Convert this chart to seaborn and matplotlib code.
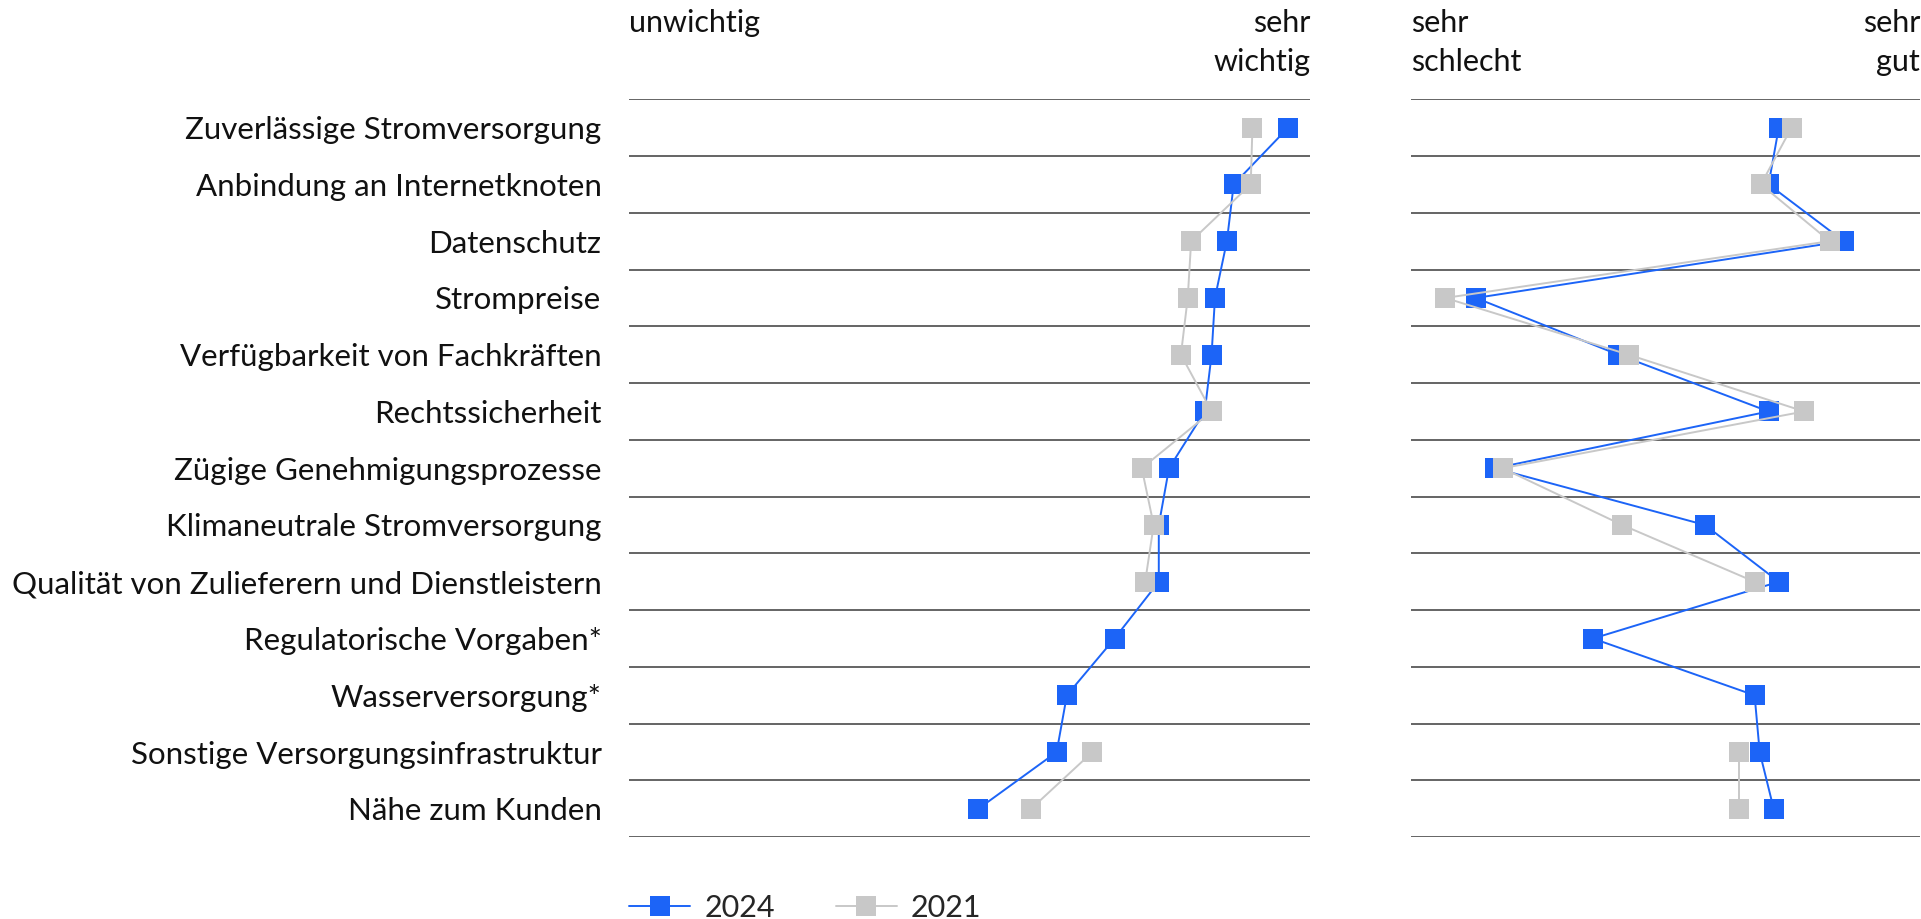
import numpy as np
import pandas as pd
import matplotlib
matplotlib.use("Agg")
import matplotlib.pyplot as plt
import matplotlib.transforms as mtransforms
from matplotlib.lines import Line2D
import seaborn as sns

# Daten
categories = [
    "Zuverlässige Stromversorgung",
    "Anbindung an Internetknoten",
    "Datenschutz",
    "Strompreise",
    "Verfügbarkeit von Fachkräften",
    "Rechtssicherheit",
    "Zügige Genehmigungsprozesse",
    "Klimaneutrale Stromversorgung",
    "Qualität von Zulieferern und Dienstleistern",
    "Regulatorische Vorgaben*",
    "Wasserversorgung*",
    "Sonstige Versorgungsinfrastruktur",
    "Nähe zum Kunden",
]
years = ["2024", "2021"]

# Wichtigkeit (1 = unwichtig, 5 = sehr wichtig)
importance_2024 = [4.87, 4.55, 4.51, 4.44, 4.42, 4.38, 4.17, 4.11, 4.11, 3.85, 3.57, 3.51, 3.05]
importance_2021 = [4.66, 4.65, 4.30, 4.28, 4.24, 4.42, 4.01, 4.08, 4.03, None, None, 3.72, 3.36]

# Bewertung (1 = sehr schlecht, 5 = sehr gut)
rating_2024 = [3.89, 3.81, 4.40, 1.51, 2.63, 3.81, 1.66, 3.31, 3.89, 2.43, 3.70, 3.74, 3.85]
rating_2021 = [3.99, 3.75, 4.29, 1.27, 2.71, 4.09, 1.72, 2.66, 3.70, None, None, 3.58, 3.58]

COLORS = {"2024": "#1c64f7", "2021": "#c8c8c8"}
FONT = "Lato"
FS = 22


def build_frame(v2024, v2021):
    """Baut ein langes DataFrame; Lücken trennen die Linie in Segmente."""
    parts = []
    for year, vals in zip(years, [v2024, v2021]):
        s = pd.Series(vals, dtype="float")
        part = pd.DataFrame({
            "pos": np.arange(len(categories)),
            "value": s,
            "year": year,
            "seg": s.isna().cumsum(),
        })
        parts.append(part.dropna())
    return pd.concat(parts, ignore_index=True)


def draw_panel(ax, df):
    for b in np.arange(len(categories) + 1) - 0.5:
        ax.axhline(b, color="#4a4a4a", lw=1.2, zorder=0)
    sns.lineplot(data=df, x="value", y="pos", hue="year", hue_order=years,
                 units="seg", estimator=None, sort=False, orient="y",
                 palette=COLORS, marker="s", markersize=15, markeredgewidth=0,
                 linewidth=1.4, legend=False, ax=ax)
    ax.set_xlim(1, 5)
    ax.set_ylim(len(categories) - 0.5, -0.5)
    ax.set_xlabel("")
    ax.set_ylabel("")
    ax.set_xticks([])
    for sp in ax.spines.values():
        sp.set_visible(False)


sns.set_style("white")
plt.rcParams["font.family"] = [FONT, "DejaVu Sans"]

fig = plt.figure(figsize=(19.21, 9.19), dpi=100)
ax1 = fig.add_axes([0.3276, 0.089, 0.3545, 0.803])
ax2 = fig.add_axes([0.7345, 0.089, 0.2650, 0.803])

draw_panel(ax1, build_frame(importance_2024, importance_2021))
draw_panel(ax2, build_frame(rating_2024, rating_2021))

ax1.set_yticks(np.arange(len(categories)))
ax1.set_yticklabels(categories, fontsize=22.5, color="#111111")
ax1.tick_params(axis="y", length=0, pad=20)
ax2.set_yticks([])

# Skalenbeschriftung oben
for ax, left, right in [(ax1, "unwichtig", "sehr\nwichtig"),
                        (ax2, "sehr\nschlecht", "sehr\ngut")]:
    tr = mtransforms.blended_transform_factory(ax.transAxes, fig.transFigure)
    ax.text(0, 0.99, left, transform=tr, ha="left", va="top",
            fontsize=FS, linespacing=1.45, color="#111111")
    ax.text(1, 0.99, right, transform=tr, ha="right", va="top",
            fontsize=FS, linespacing=1.45, color="#111111", multialignment="right")

# Legende
handles = [Line2D([], [], color=COLORS[y], marker="s", markersize=15,
                  markeredgewidth=0, linewidth=1.4) for y in years]
fig.legend(handles, years, loc="center left", ncol=2, frameon=False,
           bbox_to_anchor=(0.3276, 0.012), fontsize=FS, handlelength=2.0,
           handletextpad=0.45, columnspacing=2.0, borderaxespad=0, borderpad=0)

plt.savefig("out.png", dpi=100)
